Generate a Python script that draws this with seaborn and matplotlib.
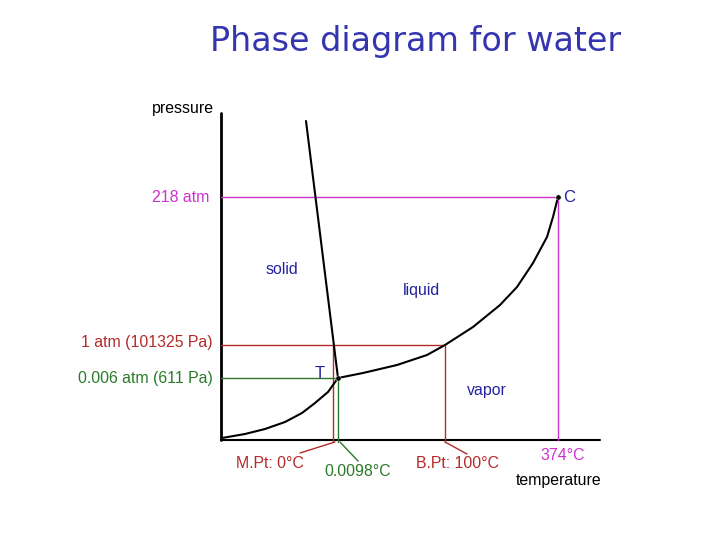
import numpy as np
import pandas as pds
import seaborn as sns
import matplotlib.pyplot as plt

# schematic phase diagram (arbitrary units: origin of the axes = 0, 0)
sub_T = [1, 24, 44, 64, 81, 94, 107, 117]
sub_P = [2, 6, 11, 18, 27, 37, 48, 62]

vap_T = [117, 142, 176, 206, 224, 252, 279, 296, 312, 326, 332, 337]
vap_P = [62, 67, 75, 85, 95, 113, 135, 153, 177, 203, 223, 243]

melt_T = [85, 117]
melt_P = [319, 62]

triple = (117, 62)
critical = (337, 243)
p_1atm = 95
t_melt = 112
t_boil = 224
axis_top = 327
axis_right = 379

magenta = '#cc33cc'
red = '#b52a2a'
green = '#2a7a2a'
blue = '#2323a0'

sns.set_style("white")
plt.rcParams['font.family'] = ['Liberation Sans', 'DejaVu Sans']

fig = plt.figure(figsize=(7.2, 5.4), dpi=100)
ax = fig.add_axes([0, 0, 1, 1])
ax.set_xlim(-221, 499)
ax.set_ylim(-100, 440)
ax.axis('off')

# axes of the diagram
ax.plot([0, 0], [axis_top, 0], color='black', lw=2)
ax.plot([0, axis_right], [0, 0], color='black', lw=1.5)

# guide lines
ax.plot([0, critical[0], critical[0]], [critical[1], critical[1], 0], color=magenta, lw=1)
ax.plot([0, t_boil, t_boil], [p_1atm, p_1atm, -2], color=red, lw=1)
ax.plot([t_melt, t_melt], [p_1atm, -2], color=red, lw=1)
ax.plot([0, triple[0], triple[0]], [triple[1], triple[1], -2], color=green, lw=1)

# leader lines to the bottom labels
ax.plot([t_melt + 2, 79], [-2, -13], color=red, lw=1)
ax.plot([t_boil, 246], [-2, -14], color=red, lw=1)
ax.plot([triple[0] + 2, 137], [-2, -21], color=green, lw=1)

# phase boundaries
curves = pds.concat([
    pds.DataFrame({'T': sub_T, 'P': sub_P, 'curve': 'sublimation'}),
    pds.DataFrame({'T': vap_T, 'P': vap_P, 'curve': 'vaporization'}),
    pds.DataFrame({'T': melt_T, 'P': melt_P, 'curve': 'melting'}),
])
sns.lineplot(data=curves, x='T', y='P', units='curve', estimator=None, sort=False,
             color='black', lw=1.5, ax=ax)
pts = pds.DataFrame({'T': [triple[0], critical[0]], 'P': [triple[1], critical[1]]})
sns.scatterplot(data=pts, x='T', y='P', color='black', s=14, ax=ax, zorder=5)

# labels
fs = 11.4
ax.text(-7, 332, 'pressure', ha='right', va='center', fontsize=fs, color='black')
ax.text(-12, critical[1], '218 atm', ha='right', va='center', fontsize=fs, color=magenta)
ax.text(-8, p_1atm + 3, '1 atm (101325 Pa)', ha='right', va='center', fontsize=fs, color=red)
ax.text(-8, triple[1], '0.006 atm (611 Pa)', ha='right', va='center', fontsize=fs, color=green)

ax.text(61, 170, 'solid', ha='center', va='center', fontsize=fs, color=blue)
ax.text(201, 150, 'liquid', ha='center', va='center', fontsize=fs, color=blue)
ax.text(266, 50, 'vapor', ha='center', va='center', fontsize=fs, color=blue)
ax.text(99, 66, 'T', ha='center', va='center', fontsize=12, color=blue)
ax.text(342, 243, 'C', ha='left', va='center', fontsize=12, color=blue)

ax.text(49, -23, 'M.Pt: 0°C', ha='center', va='center', fontsize=fs, color=red)
ax.text(137, -31, '0.0098°C', ha='center', va='center', fontsize=fs, color=green)
ax.text(237, -23, 'B.Pt: 100°C', ha='center', va='center', fontsize=fs, color=red)
ax.text(342, -16, '374°C', ha='center', va='center', fontsize=fs, color=magenta)
ax.text(338, -41, 'temperature', ha='center', va='center', fontsize=fs, color='black')

ax.text(195, 398, 'Phase diagram for water', ha='center', va='center', fontsize=24,
        color='#3535b0', family=['DejaVu Sans'])

plt.savefig('out.png', dpi=100)
